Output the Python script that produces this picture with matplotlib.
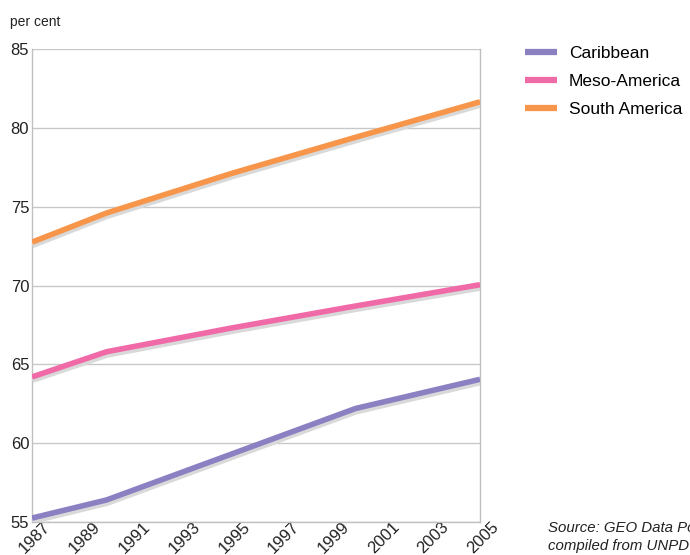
import matplotlib
matplotlib.use("Agg")
import matplotlib.pyplot as plt
import matplotlib.patheffects as pe
import matplotlib.transforms as mtransforms

plt.rcParams['font.family'] = ['Liberation Sans', 'DejaVu Sans']

years = [1987, 1990, 1995, 2000, 2005]
caribbean = [55.25, 56.4, 59.3, 62.2, 64.05]
meso_america = [64.2, 65.8, 67.3, 68.7, 70.05]
south_america = [72.75, 74.6, 77.1, 79.4, 81.65]

series_names = ["Caribbean", "Meso-America", "South America"]
series_colors = ["#8a80c2", "#f06aa8", "#f7964a"]
tick_years = list(range(1987, 2006, 2))
y_ticks = [55, 60, 65, 70, 75, 80, 85]

fig = plt.figure(figsize=(6.9, 5.55), dpi=100)
ax = fig.add_axes([32 / 690, 1 - 522 / 555, 448 / 690, 473 / 555])

shadow = [pe.SimpleLineShadow(offset=(0.3, -2.4), shadow_color="#d9d9d9", alpha=1.0),
          pe.Normal()]
for name, vals, col in zip(series_names, [caribbean, meso_america, south_america], series_colors):
    ax.plot(years, vals, color=col, lw=4.0, label=name, solid_capstyle="butt",
            path_effects=shadow, zorder=3)

ax.set_xlim(1987, 2005)
ax.set_ylim(55, 85)
ax.set_yticks(y_ticks)
ax.set_xticks(tick_years)
ax.set_xticklabels([str(y) for y in tick_years], rotation=45, ha="right", va="top",
                   rotation_mode="anchor")
ax.tick_params(axis="both", length=0, labelsize=12, colors="#222222")
ax.tick_params(axis="x", pad=2)
ax.tick_params(axis="y", pad=2)
shift = mtransforms.ScaledTranslation(11 / 100, 6 / 100, fig.dpi_scale_trans)
for lbl in ax.get_xticklabels():
    lbl.set_transform(lbl.get_transform() + shift)

ax.grid(axis="y", color="#c8c8c8", lw=1.0)
ax.set_axisbelow(True)
for side in ["left", "bottom", "right"]:
    ax.spines[side].set_color("#c0c0c0")
    ax.spines[side].set_linewidth(1.0)
ax.spines["top"].set_visible(False)

fig.text(10 / 690, 1 - 22 / 555, "per cent", fontsize=10, va="center", ha="left", color="#222222")

leg = fig.legend(loc="upper left", bbox_to_anchor=(525 / 690, 1 - 46 / 555), frameon=False,
                 fontsize=12.5, handlelength=1.84, handletextpad=0.69, labelspacing=0.74,
                 borderaxespad=0, borderpad=0)
for h in leg.get_lines():
    h.set_linewidth(4.5)
    h.set_path_effects([])

fig.text(548 / 690, 1 - 537 / 555, "Source: GEO Data Portal,\ncompiled from UNPD 2005",
         fontsize=10.8, style="italic", ha="left", va="center", color="#222222",
         linespacing=1.35)

fig.savefig("out.png", dpi=100)
